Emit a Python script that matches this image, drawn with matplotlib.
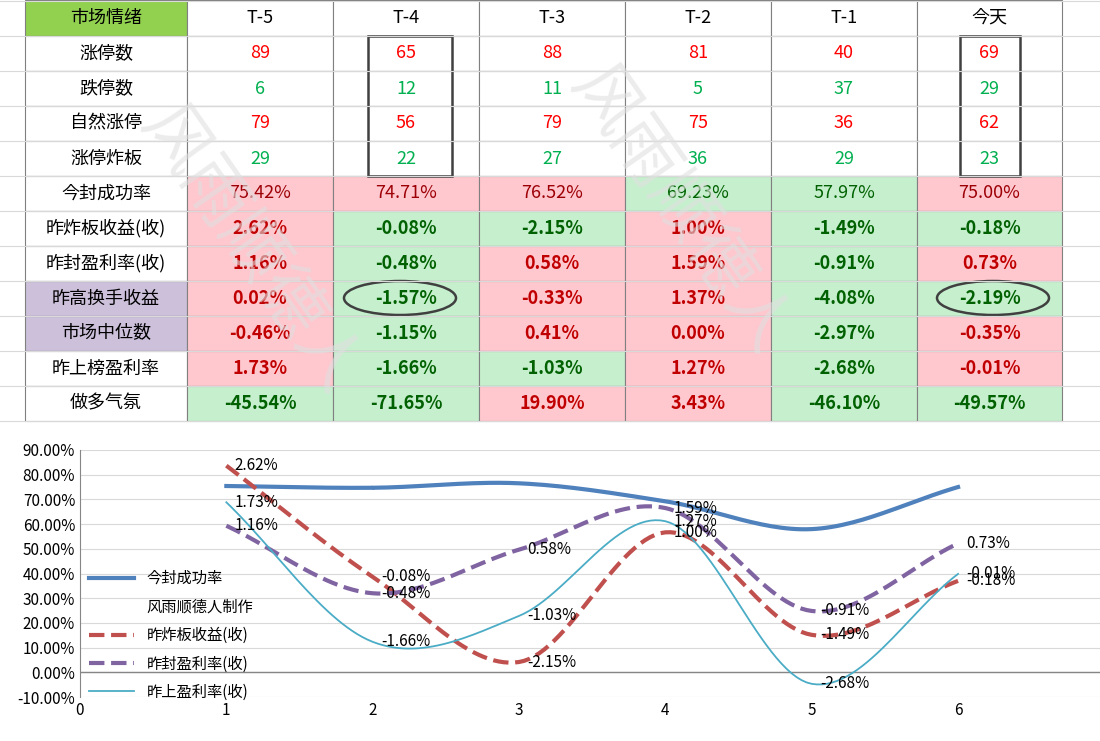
import matplotlib.pyplot as plt
import numpy as np
from matplotlib.patches import Rectangle, Ellipse
from matplotlib.lines import Line2D

plt.rcParams['font.family'] = 'sans-serif'
plt.rcParams['font.sans-serif'] = ['Noto Sans CJK SC', 'Noto Sans CJK JP', 'DejaVu Sans']

# 表格数据
cols = ['T-5', 'T-4', 'T-3', 'T-2', 'T-1', '今天']
count_rows = ['涨停数', '跌停数', '自然涨停', '涨停炸板']
zt = [89, 65, 88, 81, 40, 69]
dt = [6, 12, 11, 5, 37, 29]
zrzt = [79, 56, 79, 75, 36, 62]
zb = [29, 22, 27, 36, 29, 23]
pct_rows = ['今封成功率', '昨炸板收益(收)', '昨封盈利率(收)', '昨高换手收益',
            '市场中位数', '昨上榜盈利率', '做多气氛']
fcl = [75.42, 74.71, 76.52, 69.23, 57.97, 75.00]
zbsy = [2.62, -0.08, -2.15, 1.00, -1.49, -0.18]
zfyl = [1.16, -0.48, 0.58, 1.59, -0.91, 0.73]
zghs = [0.02, -1.57, -0.33, 1.37, -4.08, -2.19]
zws = [-0.46, -1.15, 0.41, 0.00, -2.97, -0.35]
zsb = [1.73, -1.66, -1.03, 1.27, -2.68, -0.01]
zdqf = [-45.54, -71.65, 19.90, 3.43, -46.10, -49.57]
# 1 = 红底, 0 = 绿底
flags = [[1, 1, 1, 0, 0, 1],
         [1, 0, 0, 1, 0, 0],
         [1, 0, 1, 1, 0, 1],
         [1, 0, 1, 1, 0, 0],
         [1, 0, 1, 1, 0, 1],
         [1, 0, 0, 1, 0, 1],
         [0, 0, 1, 1, 0, 0]]

PINK, GREEN = '#FFC7CE', '#C6EFCE'
DRED, DGRN = '#C00000', '#006100'

fig = plt.figure(figsize=(11, 7.41), dpi=100)
tab = fig.add_axes([0, 0, 1, 1])
tab.set_xlim(0, 1100)
tab.set_ylim(741, 0)
tab.axis('off')

for y in np.arange(0, 430, 35):
    tab.plot([0, 1100], [y + 1, y + 1], color='#D9D9D9', lw=0.8)

xs = [25, 187, 333, 479, 625, 771, 917, 1062]
ys = [0] + [36 + 35 * i for i in range(12)]

def cell(r, c, text, bg='white', color='black', bold=False, size=13):
    x0, x1 = xs[c], xs[c + 1]
    y0, y1 = ys[r], ys[r + 1]
    tab.add_patch(Rectangle((x0, y0), x1 - x0, y1 - y0, facecolor=bg,
                            edgecolor='#808080', lw=0.8))
    tab.text((x0 + x1) / 2, (y0 + y1) / 2, text, ha='center', va='center',
             color=color, fontsize=size, fontweight='bold' if bold else 'normal')

cell(0, 0, '市场情绪', bg='#92D050')
for j, c in enumerate(cols):
    cell(0, j + 1, c)
for i, (name, vals) in enumerate(zip(count_rows, [zt, dt, zrzt, zb])):
    cell(i + 1, 0, name)
    col = '#FF0000' if i in (0, 2) else '#00B050'
    for j, v in enumerate(vals):
        cell(i + 1, j + 1, str(v), color=col)

pct_data = [fcl, zbsy, zfyl, zghs, zws, zsb, zdqf]
for i, (name, vals) in enumerate(zip(pct_rows, pct_data)):
    r = i + 5
    cell(r, 0, name, bg='#CCC0DA' if name in ('昨高换手收益', '市场中位数') else 'white')
    for j, v in enumerate(vals):
        red = flags[i][j]
        if i == 0:
            cell(r, j + 1, f'{v:.2f}%', bg=PINK if red else GREEN,
                 color='#9C0006' if red else DGRN)
        else:
            cell(r, j + 1, f'{v:.2f}%', bg=PINK if red else GREEN,
                 color=DRED if red else DGRN, bold=True)

for x0, x1 in [(368, 452), (960, 1020)]:
    tab.add_patch(Rectangle((x0, 36), x1 - x0, 140, fill=False, edgecolor='#404040', lw=1.8))
for cx in [400, 993]:
    tab.add_patch(Ellipse((cx, 298), 112, 34, fill=False, edgecolor='#404040', lw=1.8))

# 水印
for x, y in [(250, 250), (680, 210)]:
    tab.text(x, y, '风雨顺德人', fontsize=48, color='#E0E0E0', alpha=0.6,
             rotation=-55, ha='center', va='center')

# 折线图
ax = fig.add_axes([80 / 1100, 44 / 741, 1020 / 1100, 247 / 741])
ax2 = ax.twinx()
x = np.arange(1, 7)

def smooth(xv, yv, n=30):
    p = np.array(yv, float)
    ext = np.concatenate([[2 * p[0] - p[1]], p, [2 * p[-1] - p[-2]]])
    xo, yo = [], []
    for k in range(len(p) - 1):
        p0, p1, p2, p3 = ext[k:k + 4]
        t = np.linspace(0, 1, n)
        yo.append(0.5 * (2 * p1 + (-p0 + p2) * t + (2 * p0 - 5 * p1 + 4 * p2 - p3) * t ** 2
                         + (-p0 + 3 * p1 - 3 * p2 + p3) * t ** 3))
        xo.append(xv[k] + t)
    return np.concatenate(xo), np.concatenate(yo)

sx, sy = smooth(x, fcl)
ax.plot(sx, sy, color='#4F81BD', lw=3)
series = [(zbsy, '#C0504D', '--', 3), (zfyl, '#8064A2', '--', 3), (zsb, '#4BACC6', '-', 1.3)]
for vals, c, ls, lw in series:
    sx, sy = smooth(x, vals)
    ax2.plot(sx, sy, color=c, ls=ls, lw=lw)
    for xi, v in zip(x, vals):
        ax2.annotate(f'{v:.2f}%', (xi, v), xytext=(6, 0), textcoords='offset points',
                     va='center', fontsize=11)

ax.set_xlim(0, 6.97)
ax.set_ylim(-10, 90)
ax2.set_ylim(-3, 3)
ax2.axis('off')
ax.set_yticks(np.arange(-10, 91, 10))
ax.set_yticklabels([f'{v:.2f}%' for v in np.arange(-10, 91, 10)], fontsize=11)
ax.set_xticks(range(7))
ax.tick_params(axis='x', labelsize=11, length=0)
ax.tick_params(axis='y', length=0)
ax.grid(axis='y', color='#D9D9D9')
for s in ['top', 'right', 'bottom']:
    ax.spines[s].set_visible(False)
ax.spines['left'].set_color('#868686')
ax.axhline(0, color='#868686', lw=1)

handles = [Line2D([], [], color='#4F81BD', lw=3),
           Line2D([], [], color='none'),
           Line2D([], [], color='#C0504D', ls='--', lw=3),
           Line2D([], [], color='#8064A2', ls='--', lw=3),
           Line2D([], [], color='#4BACC6', lw=1.3)]
labels = ['今封成功率', '风雨顺德人制作', '昨炸板收益(收)', '昨封盈利率(收)', '昨上盈利率(收)']
ax.legend(handles, labels, loc='upper left', bbox_to_anchor=(-0.005, 0.57), frameon=False,
          fontsize=11, labelspacing=0.75, handlelength=3)

fig.savefig('out.png', dpi=100)
